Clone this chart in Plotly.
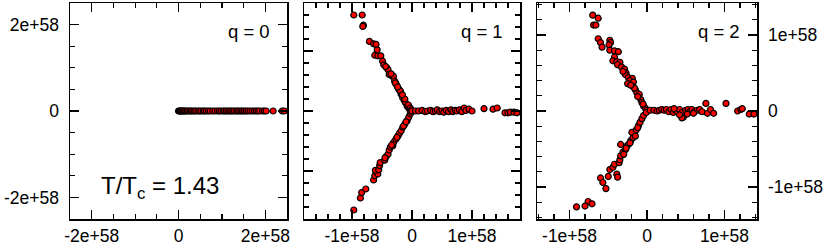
import plotly.graph_objects as go

# ---------------- data (units: 1e58) ----------------
# panel q = 0
q0_x = [0, 0.02, 0.04, 0.06, 0.08, 0.10, 0.12, 0.14, 0.17, 0.20, 0.23, 0.27, 0.30, 0.33,
        0.37, 0.40, 0.45, 0.49, 0.52, 0.57, 0.60, 0.64, 0.69, 0.73, 0.79, 0.84, 0.90, 0.94,
        0.98, 1.03, 1.06, 1.10, 1.14, 1.18, 1.21, 1.25, 1.29, 1.34, 1.37, 1.41, 1.45, 1.48,
        1.52, 1.56, 1.60, 1.65, 1.70, 1.75, 1.79, 1.83, 1.87, 1.94, 1.98, 2.02, 2.18, 2.39, 2.44]
q0_y = [0] * len(q0_x)

# panel q = 1 : upper arm, lower arm, right arm
q1_up_x = [-0.97, -0.83, -0.81, -0.82, -0.71, -0.64, -0.60, -0.58, -0.62, -0.57, -0.52, -0.49,
           -0.47, -0.42, -0.40, -0.38, -0.33, -0.31, -0.29, -0.27, -0.25, -0.22, -0.19, -0.18,
           -0.155, -0.13, -0.11, -0.08, -0.05, -0.35, -0.28, -0.20, -0.12, -0.06, -0.03, -0.01,
           -0.24, -0.16, -0.44]
q1_up_y = [1.60, 1.60, 1.43, 1.41, 1.16, 1.12, 1.11, 1.02, 0.93, 0.92, 0.92, 0.83,
           0.77, 0.72, 0.69, 0.61, 0.58, 0.58, 0.50, 0.46, 0.42, 0.36, 0.32, 0.28,
           0.22, 0.18, 0.14, 0.08, 0.04, 0.62, 0.47, 0.34, 0.20, 0.10, 0.05, 0.02,
           0.40, 0.27, 0.74]
q1_lo_x = [-0.97, -0.86, -0.84, -0.77, -0.64, -0.62, -0.57, -0.61, -0.555, -0.54, -0.53, -0.455,
           -0.43, -0.40, -0.38, -0.36, -0.32, -0.305, -0.27, -0.23, -0.21, -0.18, -0.155, -0.12,
           -0.08, -0.055, -0.03, -0.25, -0.14, -0.10, -0.34, -0.45, -0.015]
q1_lo_y = [-1.65, -1.45, -1.36, -1.30, -1.15, -1.08, -1.05, -0.99, -0.98, -0.91, -0.86, -0.82,
           -0.76, -0.72, -0.65, -0.60, -0.58, -0.52, -0.47, -0.41, -0.37, -0.33, -0.27, -0.22,
           -0.16, -0.105, -0.05, -0.44, -0.25, -0.18, -0.57, -0.78, -0.02]
q1_rt_x = [0.00, 0.06, 0.11, 0.17, 0.22, 0.26, 0.31, 0.35, 0.39, 0.42, 0.46, 0.50, 0.53, 0.57,
           0.61, 0.65, 0.68, 0.72, 0.75, 0.79, 0.83, 0.87, 0.90, 0.95, 1.00, 1.20, 1.35,
           1.42, 1.55, 1.60, 1.64, 1.70, 1.75]
q1_rt_y = [0.00, 0.00, 0.00, 0.01, -0.01, 0.00, 0.01, -0.01, 0.00, 0.02, -0.01, 0.00, -0.02, 0.01,
           -0.01, 0.02, -0.01, 0.01, 0.00, 0.02, -0.01, 0.05, 0.01, 0.03, 0.00, 0.04, 0.03,
           0.05, -0.03, -0.03, -0.02, -0.02, -0.03]

# panel q = 2 : upper arm, lower arm, right arm
q2_up_x = [-0.70, -0.63, -0.69, -0.66, -0.63, -0.60, -0.58, -0.48, -0.47, -0.49, -0.48, -0.42,
           -0.37, -0.42, -0.44, -0.39, -0.35, -0.38, -0.33, -0.29, -0.27, -0.28, -0.24, -0.19,
           -0.22, -0.175, -0.18, -0.15, -0.13, -0.10, -0.08, -0.065, -0.045, -0.02, 0.00,
           -0.31, -0.25, -0.16, -0.12, -0.21, -0.05]
q2_up_y = [1.26, 1.22, 1.13, 1.13, 0.95, 0.90, 0.84, 0.93, 0.90, 0.87, 0.80, 0.79,
           0.78, 0.71, 0.66, 0.65, 0.64, 0.61, 0.58, 0.55, 0.50, 0.48, 0.44, 0.43,
           0.40, 0.38, 0.32, 0.28, 0.24, 0.22, 0.15, 0.11, 0.065, 0.035, 0.01,
           0.52, 0.36, 0.30, 0.19, 0.34, 0.09]
q2_lo_x = [-0.91, -0.76, -0.71, -0.80, -0.53, -0.60, -0.57, -0.50, -0.39, -0.38, -0.48, -0.44,
           -0.42, -0.36, -0.35, -0.34, -0.31, -0.28, -0.34, -0.26, -0.24, -0.21, -0.18, -0.165,
           -0.195, -0.14, -0.11, -0.09, -0.065, -0.045, -0.01, -0.30, -0.22, -0.15, -0.12, -0.27]
q2_lo_y = [-1.26, -1.19, -1.22, -1.25, -1.02, -0.88, -0.94, -0.86, -0.83, -0.87, -0.77, -0.74,
           -0.70, -0.68, -0.64, -0.59, -0.54, -0.51, -0.44, -0.46, -0.44, -0.39, -0.35, -0.30,
           -0.28, -0.25, -0.19, -0.15, -0.10, -0.06, -0.02, -0.57, -0.42, -0.33, -0.22, -0.49]
q2_rt_x = [0.04, 0.09, 0.13, 0.16, 0.19, 0.22, 0.25, 0.28, 0.31, 0.34, 0.37, 0.39, 0.42, 0.45,
           0.47, 0.50, 0.53, 0.55, 0.58, 0.61, 0.65, 0.68, 0.71, 0.76, 0.78, 0.82, 0.86,
           1.02, 1.17, 1.21, 1.23, 1.32, 1.38, 0.45, 0.52, 0.60, 0.35, 0.42]
q2_rt_y = [0.01, 0.01, 0.00, 0.01, 0.02, 0.01, 0.02, -0.01, 0.02, -0.02, 0.01, -0.01, 0.02, -0.02,
           -0.08, 0.01, 0.02, -0.01, 0.02, -0.01, 0.01, 0.02, -0.01, 0.10, -0.03, 0.02, -0.03,
           0.10, 0.00, 0.02, 0.03, -0.04, -0.04, -0.09, -0.04, -0.03, 0.03, -0.05]

SCALE = 1e58
panels = [
    (q0_x, q0_y),
    (q1_up_x + q1_lo_x + q1_rt_x, q1_up_y + q1_lo_y + q1_rt_y),
    (q2_up_x + q2_lo_x + q2_rt_x, q2_up_y + q2_lo_y + q2_rt_y),
]
labels = ["q = 0", "q = 1", "q = 2"]

W, H = 826, 245
xdom_px = [(70, 287), (304, 520), (537, 757)]
ytop, ybot = 3, 219
ranges = [2.5, 1.8, 1.42]
major = [[-2, 0, 2], [-1, 0, 1], [-1, 0, 1]]
minor_dt = [0.5, 0.2, 0.2]

def fmt(v):
    if v == 0:
        return "0"
    return ("-" if v < 0 else "") + "%de+58" % abs(v)

fig = go.Figure()
font = dict(family="Liberation Sans, Arial, Helvetica, sans-serif", size=17.5, color="black")

for i, (xs, ys) in enumerate(panels):
    n = "" if i == 0 else str(i + 1)
    fig.add_trace(go.Scatter(
        x=[v * SCALE for v in xs], y=[v * SCALE for v in ys],
        mode="markers", xaxis="x" + n, yaxis="y" + n, showlegend=False,
        marker=dict(size=6, color="#ff0000", line=dict(color="black", width=1.2)),
    ))
    r = ranges[i] * SCALE
    tv = [v * SCALE for v in major[i]]
    tt = [fmt(v) for v in major[i]]
    common = dict(
        range=[-r, r], showgrid=False, zeroline=False,
        showline=True, linecolor="black", linewidth=1.5, mirror="allticks",
        ticks="inside", ticklen=9, tickwidth=1.2, tickcolor="black",
        tickvals=tv, ticktext=tt, tickfont=font,
        minor=dict(ticks="inside", ticklen=5, tickwidth=1.2, tickcolor="black",
                   dtick=minor_dt[i] * SCALE, tick0=0, showgrid=False),
        automargin=False, fixedrange=True,
    )
    xa = dict(common, domain=[xdom_px[i][0] / W, xdom_px[i][1] / W],
              anchor="y" + n, ticklabelstandoff=0)
    ya = dict(common, domain=[1 - ybot / H, 1 - ytop / H], anchor="x" + n,
              ticklabelstandoff=6)
    if i == 1:
        ya["showticklabels"] = False
    if i == 2:
        ya["side"] = "right"
    fig.update_layout(**{"xaxis" + n: xa, "yaxis" + n: ya})
    fig.add_annotation(
        text=labels[i], xref="x%s domain" % n, yref="y%s domain" % n,
        x=0.93, y=0.87, xanchor="right", yanchor="middle", showarrow=False,
        font=dict(family=font["family"], size=18.5, color="black"),
    )

fig.add_annotation(
    text="T/T<sub>c</sub> = 1.43", xref="paper", yref="paper",
    x=99 / W, y=1 - 187 / H, xanchor="left", yanchor="middle", showarrow=False,
    font=dict(family=font["family"], size=24, color="black"),
)

fig.update_layout(
    width=W, height=H, margin=dict(l=0, r=0, t=0, b=0),
    paper_bgcolor="white", plot_bgcolor="white", template="none",
    hovermode=False,
)
fig.write_html("out.html", config=dict(displayModeBar=False, staticPlot=True),
               post_script="document.body.style.margin='0';document.body.style.overflow='hidden';")
